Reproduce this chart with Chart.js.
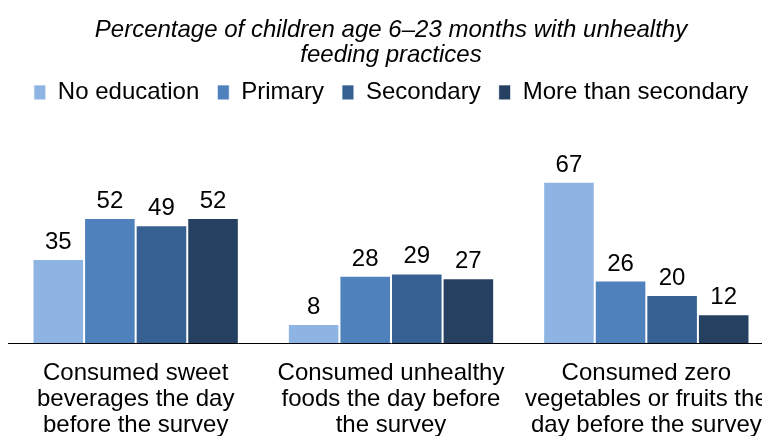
<!DOCTYPE html>
<html>
<head>
<meta charset="utf-8">
<script src="https://cdn.jsdelivr.net/npm/chart.js@4/dist/chart.umd.min.js"></script>
<style>
  html, body { margin: 0; padding: 0; background: #fff; overflow: hidden; }
  #wrap { width: 782px; height: 447px; position: relative; }
</style>
</head>
<body>
<div id="wrap"><canvas id="feedingChart"></canvas></div>
<script>
const categories = [
    ["Consumed sweet", "beverages the day", "before the survey"],
    ["Consumed unhealthy", "foods the day before", "the survey"],
    ["Consumed zero", "vegetables or fruits the", "day before the survey"]
];
const seriesNames = ["No education", "Primary", "Secondary", "More than secondary"];
const noEducation = [35, 8, 67];
const primary = [52, 28, 26];
const secondary = [49, 29, 20];
const moreThanSecondary = [52, 27, 12];
const seriesColors = ["#8EB4E3", "#4F81BD", "#376092", "#254061"];

const FONT = "'Liberation Sans', Arial, sans-serif";

// draw the value above each bar
const valueLabels = {
    id: "valueLabels",
    afterDatasetsDraw(chart) {
        const ctx = chart.ctx;
        ctx.save();
        ctx.font = "24px " + FONT;
        ctx.fillStyle = "#000";
        ctx.textAlign = "center";
        ctx.textBaseline = "alphabetic";
        chart.data.datasets.forEach((ds, i) => {
            chart.getDatasetMeta(i).data.forEach((bar, j) => {
                ctx.fillText(ds.data[j], bar.x, bar.y - 10);
            });
        });
        ctx.restore();
    }
};

const allSeries = [noEducation, primary, secondary, moreThanSecondary];

new Chart(document.getElementById("feedingChart").getContext("2d"), {
    type: "bar",
    data: {
        labels: categories,
        datasets: allSeries.map((values, i) => ({
            label: seriesNames[i],
            data: values,
            backgroundColor: seriesColors[i],
            borderColor: "rgba(255,255,255,0.85)",
            borderWidth: 1,
            categoryPercentage: 0.808,
            barPercentage: 1.0
        }))
    },
    options: {
        responsive: true,
        maintainAspectRatio: false,
        animation: false,
        layout: { padding: { left: 8, right: 8, top: 10, bottom: 0 } },
        plugins: {
            title: {
                display: true,
                text: ["Percentage of children age 6\u201323 months with unhealthy", "feeding practices"],
                color: "#000",
                font: { family: FONT, size: 24, style: "italic", weight: "normal", lineHeight: 1.05 },
                padding: { top: 8, bottom: -6 }
            },
            legend: {
                display: true,
                position: "top",
                labels: {
                    color: "#000",
                    font: { family: FONT, size: 24 },
                    boxWidth: 12,
                    boxHeight: 15,
                    padding: 18
                }
            },
            tooltip: { enabled: false }
        },
        scales: {
            x: {
                grid: { display: false },
                border: { display: true, color: "#000", width: 1 },
                ticks: {
                    color: "#000",
                    font: { family: FONT, size: 24, lineHeight: 1.08 },
                    maxRotation: 0,
                    autoSkip: false,
                    padding: 9
                }
            },
            y: {
                display: false,
                min: 0,
                max: 95
            }
        }
    },
    plugins: [valueLabels]
});
</script>
</body>
</html>
